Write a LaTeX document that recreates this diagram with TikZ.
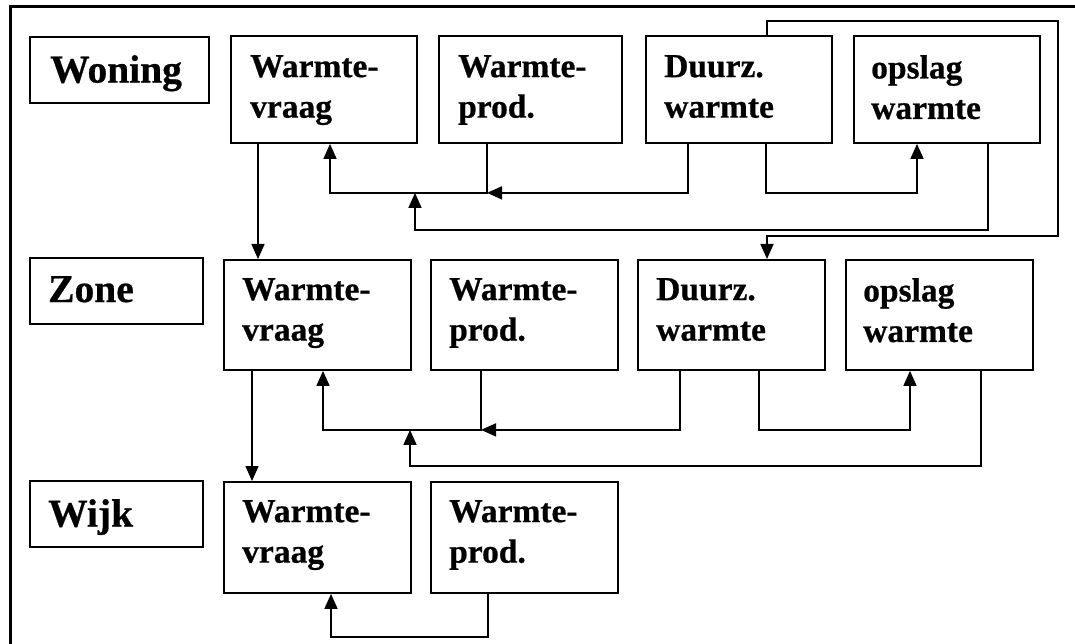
\documentclass[tikz,border=0pt]{standalone}
\usepackage{fontspec}
\setmainfont{Liberation Serif}[BoldFeatures={FakeBold=0.6}]
\usetikzlibrary{arrows.meta}
\tikzset{
  frame/.style={line width=2.6pt},
  box/.style={draw, line width=1.9pt, anchor=north west, inner sep=0pt, minimum width=186pt, minimum height=108pt},
  lbox/.style={draw, line width=1.9pt, anchor=north west, inner sep=0pt, minimum width=173pt, minimum height=66pt},
  txt/.style={anchor=north west, inner sep=0pt, align=left, font=\fontsize{33.5}{40.5}\selectfont\bfseries},
  ltxt/.style={anchor=north west, inner sep=0pt, font=\fontsize{39.5}{44}\selectfont\bfseries},
  arr/.style={line width=1.6pt, -{Triangle[width=13pt,length=15pt]}}
}
\begin{document}
\begin{tikzpicture}[x=1pt,y=-1pt]
\useasboundingbox (0,0) rectangle (1075,644);
\coordinate (FB) at (10.5,644);
\coordinate (FC) at (10.5,6.5);
\coordinate (FR) at (1075,6.5);
\draw[frame] (FB) -- (FC) -- (FR);

% level labels
\node[lbox, minimum width=179pt] (Wo) at (29,36) {};
\node[ltxt] (Wot) at ([xshift=21pt,yshift=-19pt]Wo.north west) {Woning};
\node[lbox] (Zo) at (29,257) {};
\node[ltxt] (Zot) at ([xshift=19pt,yshift=-19pt]Zo.north west) {Zone};
\node[lbox] (Wi) at (29,480) {};
\node[ltxt] (Wit) at ([xshift=19pt,yshift=-19pt]Wi.north west) {Wijk};

% row 1
\node[box, minimum height=107pt] (A1) at (230,35) {};
\node[box, minimum width=183pt, minimum height=107pt] (B1) at (438,35) {};
\node[box, minimum height=107pt] (C1) at (645,35) {};
\node[box, minimum height=107pt] (D1) at (853,35) {};
\node[txt] (A1t) at ([xshift=20pt,yshift=-20pt]A1.north west) {Warmte-\\vraag};
\node[txt] (B1t) at ([xshift=20pt,yshift=-20pt]B1.north west) {Warmte-\\prod.};
\node[txt] (C1t) at ([xshift=19pt,yshift=-20pt]C1.north west) {Duurz.\\warmte};
\node[txt] (D1t) at ([xshift=18pt,yshift=-20pt]D1.north west) {opslag\\warmte};

% row 2
\node[box, minimum width=187pt, minimum height=110pt] (A2) at (223,259) {};
\node[box, minimum width=187pt, minimum height=110pt] (B2) at (430,259) {};
\node[box, minimum width=187pt, minimum height=110pt] (C2) at (637,259) {};
\node[box, minimum width=187pt, minimum height=110pt] (D2) at (845,259) {};
\node[txt] (A2t) at ([xshift=19pt,yshift=-19pt]A2.north west) {Warmte-\\vraag};
\node[txt] (B2t) at ([xshift=19pt,yshift=-19pt]B2.north west) {Warmte-\\prod.};
\node[txt] (C2t) at ([xshift=19pt,yshift=-19pt]C2.north west) {Duurz.\\warmte};
\node[txt] (D2t) at ([xshift=18pt,yshift=-19pt]D2.north west) {opslag\\warmte};

% row 3
\node[box, minimum width=187pt, minimum height=111pt] (A3) at (223,481) {};
\node[box, minimum width=187pt, minimum height=111pt] (B3) at (430,481) {};
\node[txt] (A3t) at ([xshift=19pt,yshift=-19pt]A3.north west) {Warmte-\\vraag};
\node[txt] (B3t) at ([xshift=19pt,yshift=-19pt]B3.north west) {Warmte-\\prod.};

% connectors row 1
\draw[arr] ([xshift=28pt]A1.south west) -- ([xshift=35pt]A2.north west);
\draw[arr] ([xshift=49pt]B1.south west) -- ++(0,49) -| ([xshift=100pt]A1.south west);
\coordinate (J1) at ([xshift=49pt,yshift=-49pt]B1.south west);
\draw[arr] ([xshift=43pt]C1.south west) |- (J1);
\draw[arr] ([xshift=121pt]C1.south west) -- ++(0,49) -| ([xshift=64pt]D1.south west);
\coordinate (J1b) at ([xshift=185pt,yshift=-49pt]A1.south west);
\draw[arr] ([xshift=135pt]D1.south west) -- ++(0,86) -| (J1b);
\draw[arr] ([xshift=122pt]C1.north west) -- ++(0,-14) -- ++(291,0) -- ++(0,215) -| ([xshift=130pt]C2.north west);

% connectors row 2
\draw[arr] ([xshift=29pt]A2.south west) -- ([xshift=29pt]A3.north west);
\draw[arr] ([xshift=51pt]B2.south west) -- ++(0,59) -| ([xshift=100pt]A2.south west);
\coordinate (J2) at ([xshift=51pt,yshift=-59pt]B2.south west);
\draw[arr] ([xshift=43pt]C2.south west) |- (J2);
\draw[arr] ([xshift=122pt]C2.south west) -- ++(0,59) -| ([xshift=65pt]D2.south west);
\coordinate (J2b) at ([xshift=187pt,yshift=-59pt]A2.south west);
\draw[arr] ([xshift=136pt]D2.south west) -- ++(0,95) -| (J2b);

% connectors row 3
\draw[arr] ([xshift=58pt]B3.south west) -- ++(0,43) -| ([xshift=108pt]A3.south west);
\end{tikzpicture}
\end{document}
